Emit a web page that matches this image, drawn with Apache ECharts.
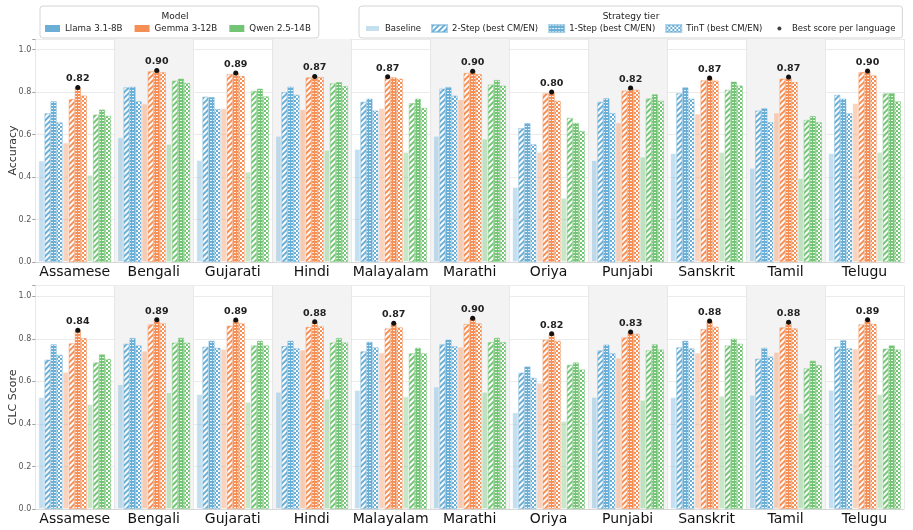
<!DOCTYPE html>
<html><head><meta charset="utf-8">
<script src="https://cdn.jsdelivr.net/npm/echarts@6/dist/echarts.min.js"></script>
<style>html,body{margin:0;padding:0;background:#fff}#c{width:913px;height:530px}</style>
</head><body><div id="c"></div>
<script>
const languages = ['Assamese','Bengali','Gujarati','Hindi','Malayalam','Marathi','Oriya','Punjabi','Sanskrit','Tamil','Telugu'];
const models = ['Llama 3.1-8B','Gemma 3-12B','Qwen 2.5-14B'];
const strategies = ['Baseline','2-Step (best CM/EN)','1-Step (best CM/EN)','TinT (best CM/EN)'];
const bestLabel = 'Best score per language';
const panelNames = ['Accuracy','CLC Score'];

// Accuracy
const accLlamaBase  = [0.477,0.587,0.480,0.594,0.532,0.594,0.353,0.480,0.512,0.443,0.512];
const accLlama2Step = [0.700,0.822,0.778,0.800,0.754,0.816,0.630,0.754,0.794,0.713,0.787];
const accLlama1Step = [0.757,0.825,0.776,0.825,0.769,0.824,0.654,0.771,0.822,0.724,0.769];
const accLlamaTinT  = [0.657,0.757,0.720,0.787,0.713,0.783,0.554,0.701,0.769,0.658,0.700];
const accGemmaBase  = [0.562,0.746,0.724,0.720,0.724,0.767,0.518,0.657,0.698,0.704,0.748];
const accGemma2Step = [0.767,0.898,0.885,0.869,0.872,0.890,0.794,0.806,0.855,0.863,0.894];
const accGemma1Step = [0.822,0.902,0.890,0.874,0.869,0.898,0.800,0.819,0.866,0.871,0.899];
const accGemmaTinT  = [0.784,0.894,0.876,0.871,0.863,0.885,0.759,0.811,0.854,0.847,0.879];
const accQwenBase   = [0.410,0.556,0.425,0.528,0.518,0.581,0.302,0.496,0.518,0.395,0.518];
const accQwen2Step  = [0.694,0.854,0.806,0.841,0.748,0.835,0.679,0.770,0.811,0.669,0.794];
const accQwen1Step  = [0.718,0.863,0.816,0.847,0.769,0.857,0.655,0.789,0.849,0.687,0.795];
const accQwenTinT   = [0.688,0.843,0.780,0.828,0.726,0.830,0.617,0.759,0.831,0.658,0.757];

// CLC Score
const clcLlamaBase  = [0.526,0.587,0.540,0.551,0.559,0.576,0.454,0.527,0.526,0.537,0.560];
const clcLlama2Step = [0.702,0.777,0.763,0.766,0.741,0.774,0.641,0.746,0.760,0.706,0.763];
const clcLlama1Step = [0.774,0.804,0.791,0.791,0.786,0.796,0.670,0.773,0.791,0.758,0.793];
const clcLlamaTinT  = [0.725,0.769,0.758,0.755,0.760,0.765,0.617,0.732,0.755,0.717,0.755];
const clcGemmaBase  = [0.645,0.744,0.752,0.749,0.736,0.763,0.593,0.711,0.735,0.739,0.754];
const clcGemma2Step = [0.779,0.868,0.862,0.856,0.849,0.870,0.796,0.807,0.846,0.854,0.868];
const clcGemma1Step = [0.841,0.890,0.889,0.881,0.873,0.897,0.824,0.832,0.884,0.878,0.890];
const clcGemmaTinT  = [0.804,0.873,0.873,0.859,0.854,0.873,0.791,0.824,0.857,0.849,0.871];
const clcQwenBase   = [0.493,0.549,0.504,0.518,0.529,0.551,0.414,0.513,0.532,0.452,0.540];
const clcQwen2Step  = [0.689,0.782,0.769,0.783,0.732,0.785,0.678,0.746,0.769,0.661,0.754];
const clcQwen1Step  = [0.727,0.805,0.791,0.804,0.758,0.805,0.689,0.774,0.801,0.697,0.769];
const clcQwenTinT   = [0.706,0.782,0.769,0.783,0.732,0.785,0.656,0.750,0.777,0.677,0.750];

const panels = [
  [[accLlamaBase,accLlama2Step,accLlama1Step,accLlamaTinT],
   [accGemmaBase,accGemma2Step,accGemma1Step,accGemmaTinT],
   [accQwenBase,accQwen2Step,accQwen1Step,accQwenTinT]],
  [[clcLlamaBase,clcLlama2Step,clcLlama1Step,clcLlamaTinT],
   [clcGemmaBase,clcGemma2Step,clcGemma1Step,clcGemmaTinT],
   [clcQwenBase,clcQwen2Step,clcQwen1Step,clcQwenTinT]]
];

const FONT = 'DejaVu Sans';
const modelRGB = [[107,174,214],[245,143,86],[116,196,118]];
const rgba = (c,a) => `rgba(${c[0]},${c[1]},${c[2]},${a})`;

function styleFor(m, s) {
  const c = modelRGB[m];
  const solid = rgba(c,1);
  if (s === 0) return { color: rgba(c,0.4), borderColor: '#fff', borderWidth: 0.6 };
  if (s === 1) return { color: '#fff', borderColor: rgba(c,0.35), borderWidth: 0.8,
    decal: { symbol:'rect', symbolSize:1, color: solid, dashArrayX:[1,0], dashArrayY:[1.6,1.6], rotation: -Math.PI/4 } };
  if (s === 2) return { color: solid, borderColor: rgba(c,0.35), borderWidth: 0.8,
    decal: { symbol:'rect', symbolSize:1, color:'rgba(255,255,255,0.85)', dashArrayX:[2,1], dashArrayY:[1,1.5] } };
  return { color: '#fff', borderColor: rgba(c,0.35), borderWidth: 0.8,
    decal: { symbol:'rect', symbolSize:1, color: solid, dashArrayX:[[1.5,1.5],[0,1.5,1.5,0]], dashArrayY:[1.5,0] } };
}

const grids = [
  { left: 35.3, right: 9, top: 39, height: 223, containLabel:false, outerBoundsMode:'none' },
  { left: 35.3, right: 9, top: 285.7, height: 223.3, containLabel:false, outerBoundsMode:'none' },
  { left: -50, top: -50, width: 10, height: 10, show: false, containLabel:false, outerBoundsMode:'none' }
];
const xAxes = [0,1].map(p => ({
  type:'category', gridIndex:p, data: languages,
  axisTick:{show:false, interval:0},
  axisLine:{show:true, lineStyle:{color:'#d0d0d0', width:0.8}},
  axisLabel:{fontFamily:FONT, fontSize:14, color:'#111', margin:3, interval:0, hideOverlap:false},
  splitLine:{show:true, interval:0, lineStyle:{color:'#e2e2e2', width:0.8}},
  splitArea:{show:true, interval:0, areaStyle:{color:['rgba(255,255,255,0)','#f3f3f3']}}
}));
xAxes.push({type:'category', gridIndex:2, show:false, data:['x']});
const yAxes = [0,1].map(p => ({
  type:'value', gridIndex:p, min:0, max:1.05, interval:0.2,
  name: panelNames[p], nameLocation:'middle', nameGap:17, nameMoveOverlap:false,
  nameTextStyle:{fontFamily:FONT, fontSize:11, color:'#333'},
  axisLine:{show:false},
  axisTick:{show:true, length:3, lineStyle:{color:'#888', width:0.8}},
  axisLabel:{fontFamily:FONT, fontSize:8, color:'#555', margin:4,
    formatter: v => (v > 1.0001 ? '' : v.toFixed(1))},
  splitLine:{show:true, lineStyle:{color:'#e6e6e6', width:0.8}}
}));
yAxes.push({type:'value', gridIndex:2, show:false});

const series = [];
for (let p = 0; p < 2; p++) {
  const best = languages.map((_, i) => {
    let bm = 0, bs = 0, bv = -1;
    for (let m = 0; m < 3; m++) for (let s = 0; s < 4; s++) {
      const v = panels[p][m][s][i];
      if (v > bv) { bv = v; bm = m; bs = s; }
    }
    return {m: bm, s: bs, v: bv};
  });
  for (let m = 0; m < 3; m++) for (let s = 0; s < 4; s++) {
    const mpData = [];
    best.forEach((b, i) => { if (b.m === m && b.s === s) mpData.push({ coord:[languages[i], b.v], value: b.v }); });
    series.push({
      type:'bar', name: models[m] + ' · ' + strategies[s],
      xAxisIndex:p, yAxisIndex:p, data: panels[p][m][s],
      barGap:'0%', barCategoryGap:'8%',
      itemStyle: styleFor(m, s),
      emphasis:{disabled:true},
      markPoint: mpData.length ? {
        symbol:'circle', symbolSize:5, silent:true,
        itemStyle:{color:'#111'},
        label:{show:true, position:'top', distance:1, formatter: q => q.value.toFixed(2),
          fontFamily:FONT, fontWeight:'bold', fontSize:9.5, color:'#222'},
        data: mpData
      } : undefined
    });
  }
}
models.forEach((name, m) => series.push({type:'bar', name, xAxisIndex:2, yAxisIndex:2, data:[],
  itemStyle:{color: rgba(modelRGB[m],1)}}));
strategies.forEach((name, s) => series.push({type:'bar', name, xAxisIndex:2, yAxisIndex:2, data:[],
  itemStyle: styleFor(0, s)}));
series.push({type:'scatter', name: bestLabel, xAxisIndex:2, yAxisIndex:2, data:[], itemStyle:{color:'#111'}});

const legendText = {fontFamily:FONT, fontSize:8.5, color:'#222'};
const option = {
  animation:false,
  backgroundColor:'#fff',
  grid: grids, xAxis: xAxes, yAxis: yAxes, series,
  legend: [
    { data: models, left:40, top:6, width:300, orient:'horizontal', icon:'rect', itemWidth:15, itemHeight:7, itemGap:12,
      padding:[18,8,5,5], borderColor:'#d4d4d4', borderWidth:1, borderRadius:3,
      textStyle: Object.assign({}, legendText, {fontSize:8.7}), selectedMode:false },
    { data: strategies.map(n => ({name:n, icon:'rect'})).concat([{name: bestLabel,
        icon:'path://M0,0M14,7M5,3.5a2,2 0 1,0 4,0a2,2 0 1,0 -4,0z'}]),
      left:359, top:6, width:545, orient:'horizontal', itemWidth:15, itemHeight:7, itemGap:10,
      padding:[18,7,5,5], borderColor:'#d4d4d4', borderWidth:1, borderRadius:3, textStyle: legendText,
      selectedMode:false }
  ],
  graphic: [
    { type:'text', x:175, y:12, style:{text:'Model', fontFamily:FONT, fontSize:9, fill:'#222', textAlign:'center'}, silent:true },
    { type:'text', x:631, y:12, style:{text:'Strategy tier', fontFamily:FONT, fontSize:9, fill:'#222', textAlign:'center'}, silent:true }
  ]
};
const chart = echarts.init(document.getElementById('c'), null, {renderer:'canvas'});
chart.setOption(option);
</script>
</body></html>
